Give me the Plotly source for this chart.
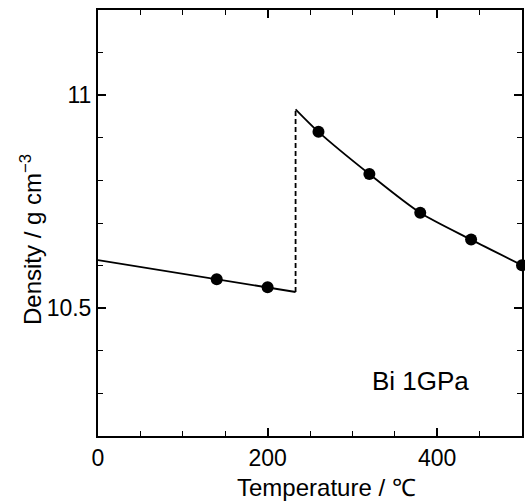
import plotly.graph_objects as go

# Measured data points
temp_pts = [140, 200, 260, 320, 380, 440, 500]
dens_pts = [10.568, 10.549, 10.914, 10.815, 10.724, 10.661, 10.601]

# Fitted curve (solid phase, below transition)
temp_low = [0, 233]
dens_low = [10.613, 10.538]

# Fitted curve (liquid phase, above transition)
temp_high = [233, 260, 320, 380, 440, 500]
dens_high = [10.967, 10.914, 10.815, 10.724, 10.661, 10.601]

# Transition (dashed vertical)
temp_jump = [233, 233]
dens_jump = [10.538, 10.967]

x_ticks = [0, 200, 400]
y_ticks = [10.5, 11]
y_tick_text = ["10.5", "11"]

FONT = "Liberation Sans, Arial, Helvetica, sans-serif"

fig = go.Figure()
fig.add_trace(go.Scatter(x=temp_low, y=dens_low, mode="lines",
                         line=dict(color="black", width=1.8), showlegend=False))
fig.add_trace(go.Scatter(x=temp_high, y=dens_high, mode="lines",
                         line=dict(color="black", width=1.8, shape="spline", smoothing=0.8),
                         showlegend=False))
fig.add_trace(go.Scatter(x=temp_jump, y=dens_jump, mode="lines",
                         line=dict(color="black", width=1.8, dash="5px,3px"), showlegend=False))
fig.add_trace(go.Scatter(x=temp_pts, y=dens_pts, mode="markers",
                         marker=dict(color="black", size=12), showlegend=False, cliponaxis=False))

axis_common = dict(
    showline=True, linecolor="black", linewidth=2, mirror="ticks",
    ticks="inside", ticklen=8, tickwidth=1.5, tickcolor="black",
    showgrid=False, zeroline=False,
    tickfont=dict(family=FONT, size=23, color="black"),
)

fig.update_xaxes(range=[0, 500], tickvals=x_ticks,
                 minor=dict(dtick=50, ticks="inside", ticklen=5, tickwidth=1.2, tickcolor="black"),
                 **axis_common)
fig.update_yaxes(range=[10.2, 11.2], tickvals=y_ticks, ticktext=y_tick_text,
                 minor=dict(dtick=0.1, ticks="inside", ticklen=5, tickwidth=1.2, tickcolor="black"),
                 **axis_common)

fig.add_annotation(text="Temperature / ℃", xref="paper", yref="paper",
                   x=0.538, y=-0.12, xanchor="center", yanchor="middle", showarrow=False,
                   font=dict(family=FONT, size=24, color="black"))
fig.add_annotation(text="Density / g cm<sup>−3</sup>", xref="paper", yref="paper",
                   x=-0.158, y=0.46, xanchor="center", yanchor="middle", showarrow=False,
                   textangle=-90, font=dict(family=FONT, size=24, color="black"))
fig.add_annotation(text="Bi 1GPa", xref="x", yref="y", x=380, y=10.328,
                   xanchor="center", yanchor="middle", showarrow=False,
                   font=dict(family=FONT, size=26, color="black"))

fig.update_layout(
    width=525, height=502,
    margin=dict(l=98, r=1, t=10, b=66),
    paper_bgcolor="white", plot_bgcolor="white",
    font=dict(family=FONT, color="black"),
)

fig.write_html("out.html", config={"displayModeBar": False},
               post_script="document.body.style.margin='0';document.body.style.overflow='hidden';")
